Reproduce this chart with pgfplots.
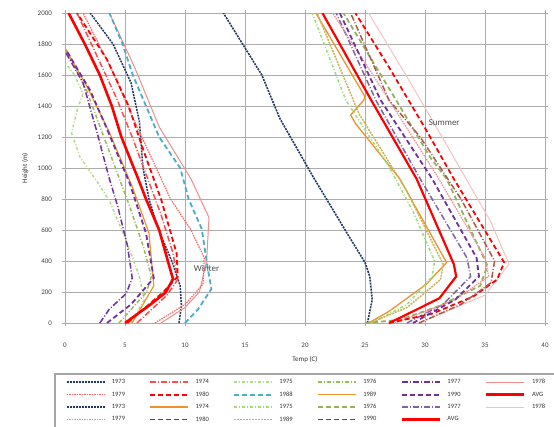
\documentclass[border=0pt]{standalone}
\usepackage{fontspec}
\setmainfont{Carlito}
\usepackage{pgfplots}
\pgfplotsset{compat=1.18}
\definecolor{navy}{HTML}{1F3864}
\definecolor{xred}{HTML}{FF0000}
\definecolor{lred}{HTML}{FF6666}
\definecolor{pinkl}{HTML}{F08C8C}
\definecolor{pinkp}{HTML}{F5C2C2}
\definecolor{lgreen}{HTML}{B5D98B}
\definecolor{ogreen}{HTML}{9BBB59}
\definecolor{dgreen}{HTML}{77A033}
\definecolor{purp}{HTML}{7030A0}
\definecolor{lpurp}{HTML}{8064A2}
\definecolor{sky}{HTML}{4BACC6}
\definecolor{orng}{HTML}{F0922E}
\definecolor{olv}{HTML}{C9B458}
\definecolor{ygreen}{HTML}{C3D69B}
\definecolor{brn}{HTML}{B2564A}

\begin{document}
\begin{tikzpicture}[x=1pt,y=1pt]
\path[use as bounding box] (-65,-103) rectangle (489,323);
\begin{axis}[
  at={(0,0)}, anchor=south west, scale only axis,
  width=480pt, height=310pt,
  xmin=0, xmax=40, ymin=0, ymax=2000,
  xtick={0,5,...,40}, ytick={0,200,...,2000},
  grid=major, major grid style={gray!65, line width=0.8pt},
  axis line style={gray!65, line width=0.8pt},
  tick style={gray!65}, tick align=outside, major tick length=3pt,
  ticklabel style={font=\fontsize{7}{8}\selectfont, text=black!75},
  xticklabel style={yshift=-13pt},
  yticklabel style={xshift=-6pt},
  /pgf/number format/assume math mode=true,
  /pgf/number format/1000 sep={},
  xlabel={Temp (C)}, ylabel={Height (m)},
  label style={font=\fontsize{7}{8}\selectfont, text=black!80},
  xlabel style={at={(axis description cs:0.5,-0.119)}, anchor=center},
  ylabel style={at={(axis description cs:-0.083,0.5)}, anchor=center},
  legend columns=6,
  legend cell align=left,
  legend image code/.code={\draw[#1] (0pt,0pt) -- (38pt,0pt);},
  legend style={name=leg, at={(axis description cs:-0.0208,-0.1645)}, anchor=north west,
    font=\fontsize{6.5}{7}\selectfont, draw=none,
    inner xsep=10pt, inner ysep=3pt, row sep=3.5pt, column sep=0pt,
    nodes={text width=34pt, inner sep=1.5pt, text=black!80},
    /tikz/every odd column/.append style={column sep=5pt},
    /tikz/every even column/.append style={column sep=2pt}},
  line width=1.5pt,
]
% ---- winter (rows 1-2)
\addplot[navy, dash pattern=on 2pt off 1pt] coordinates {(9.5,0)(9.7,110)(9.6,240)(8.9,400)(7.8,600)(7.0,800)(6.5,1000)(6.2,1300)(5.5,1550)(4.0,1800)(2.1,2000)};
\addlegendentry{1973}
\addplot[xred!70, dash pattern=on 6pt off 2pt on 1pt off 2pt] coordinates {(6.0,0)(8.5,180)(9.4,280)(9.0,450)(8.0,700)(6.8,950)(5.6,1200)(4.3,1450)(2.8,1700)(1.0,2000)};
\addlegendentry{1974}
\addplot[lgreen, dash pattern=on 3pt off 2pt on 1pt off 2pt] coordinates {(5.5,0)(6.6,150)(6.2,300)(5.0,550)(3.7,790)(2.6,920)(1.25,1070)(0.55,1225)(1.0,1370)(1.5,1480)(0.8,1600)(0,1680)};
\addlegendentry{1975}
\addplot[ogreen, dash pattern=on 4pt off 2pt on 1pt off 2pt] coordinates {(4.5,0)(6.8,200)(7.2,300)(6.5,500)(5.4,750)(4.2,1000)(3.0,1250)(1.8,1500)(0.5,1700)(0,1780)};
\addlegendentry{1976}
\addplot[purp, dash pattern=on 6pt off 2pt on 1pt off 2pt] coordinates {(2.9,0)(3.7,90)(5.1,190)(5.6,290)(5.2,500)(4.4,750)(3.7,930)(2.6,1250)(1.5,1550)(0.1,1740)};
\addlegendentry{1977}
\addplot[pinkl, line width=1pt] coordinates {(8.0,0)(10.0,100)(11.2,200)(11.8,400)(12.0,680)(10.5,930)(7.85,1265)(5.8,1650)(3.7,2000)};
\addlegendentry{1978}
\addplot[lred, line width=1.2pt, dash pattern=on 1.5pt off 1pt] coordinates {(7.5,0)(10.0,120)(11.5,250)(11.6,420)(10.5,600)(8.8,800)(7.6,1000)(5.8,1300)(3.8,1650)(1.5,2000)};
\addlegendentry{1979}
\addplot[xred, line width=1.8pt, dash pattern=on 5pt off 3pt] coordinates {(5.2,0)(8.2,200)(9.4,300)(9.3,450)(8.0,800)(6.6,1100)(5.3,1400)(3.5,1700)(1.0,2000)};
\addlegendentry{1980}
\addplot[sky, line width=1.8pt, dash pattern=on 5pt off 3pt] coordinates {(10.0,0)(11.1,90)(12.2,220)(11.9,350)(11.4,606)(10.3,800)(9.6,1000)(7.85,1200)(6.75,1400)(5.65,1600)(4.8,1800)(3.7,2000)};
\addlegendentry{1988}
\addplot[orng, line width=1.2pt] coordinates {(5.6,0)(7.4,240)(7.0,580)(5.6,880)(3.7,1230)(1.8,1530)(0.1,1760)};
\addlegendentry{1989}
\addplot[purp, line width=1.8pt, dash pattern=on 5pt off 3pt] coordinates {(3.5,0)(5.5,120)(7.4,290)(6.75,580)(5.4,900)(3.4,1270)(2.1,1500)(0.1,1760)};
\addlegendentry{1990}
\addplot[xred, line width=2.6pt] coordinates {(5.0,0)(7.0,112)(8.4,198)(9.0,284)(8.6,392)(7.85,600)(6.75,800)(6.1,930)(4.7,1200)(3.9,1400)(2.9,1600)(1.65,1800)(0.3,2000)};
\addlegendentry{AVG}
% ---- summer (rows 3-4)
\addplot[navy, dash pattern=on 2pt off 1pt, line width=1.6pt] coordinates {(25.2,0)(25.6,150)(25.4,300)(25.0,390)(23.5,580)(20.7,940)(17.9,1320)(16.4,1600)(13.2,2000)};
\addlegendentry{1973}
\addplot[orng, line width=1.3pt] coordinates {(25.3,0)(27.0,75)(30.1,250)(31.8,390)(27.9,930)(24.2,1288)(23.8,1342)(24.9,1438)(25.0,1460)(20.9,2000)};
\addlegendentry{1974}
\addplot[ygreen!80!green, dash pattern=on 3pt off 2pt on 1pt off 2pt] coordinates {(25.6,0)(28.5,120)(30.6,300)(30.8,400)(29.0,720)(27.0,1008)(23.4,1438)(20.6,2000)};
\addlegendentry{1975}
\addplot[dgreen!80, line width=1.8pt, dash pattern=on 5pt off 3pt] coordinates {(25.0,0)(27.9,20)(31.2,110)(34.6,240)(35.2,370)(31.8,930)(30.4,1073)(27.5,1450)(23.2,2000)};
\addlegendentry{1976}
\addplot[lpurp, dash pattern=on 6pt off 2pt on 1pt off 2pt] coordinates {(28.5,0)(31.5,120)(33.8,300)(33.5,420)(29.6,930)(25.9,1438)(22.6,2000)};
\addlegendentry{1977}
\addplot[pinkp, line width=1pt] coordinates {(29.5,0)(35.0,180)(37.0,380)(35.5,650)(31.8,1150)(28.4,1600)(25.3,2000)};
\addlegendentry{1978}
\addplot[pinkl, line width=1.2pt, dash pattern=on 1.5pt off 1pt] coordinates {(27.5,0)(32.5,150)(35.3,300)(35.0,420)(31.0,950)(26.5,1500)(22.3,2000)};
\addlegendentry{1979}
\addplot[xred, line width=1.8pt, dash pattern=on 5pt off 3pt] coordinates {(27.0,0)(30.6,60)(34.0,170)(36.0,280)(36.6,390)(32.4,930)(30.1,1245)(27.0,1650)(24.2,2000)};
\addlegendentry{1980}
\addplot[olv, dash pattern=on 2pt off 1pt] coordinates {(25.4,0)(28.5,100)(31.3,280)(31.5,380)(28.5,850)(24.5,1350)(21.0,2000)};
\addlegendentry{1989}
\addplot[purp, line width=1.8pt, dash pattern=on 5pt off 3pt] coordinates {(29.0,0)(32.5,150)(34.5,300)(34.3,420)(30.6,930)(26.3,1438)(22.9,2000)};
\addlegendentry{1990}
\addplot[xred, line width=2.2pt] coordinates {(27.0,0)(28.4,52)(31.2,160)(32.6,300)(32.4,380)(29.3,930)(25.5,1440)(21.45,2000)};
\addlegendentry{AVG}
\addplot[brn, forget plot, line width=1.5pt, dash pattern=on 6pt off 2pt on 1pt off 2pt] coordinates {(29.5,0)(33.0,120)(35.5,260)(35.8,400)(33.0,800)(29.6,1200)(27.0,1438)(23.8,2000)};
\node[font=\fontsize{9}{10}\selectfont, text=black!70] at (axis cs:11.8,355) {Winter};
\node[font=\fontsize{9}{10}\selectfont, text=black!70] at (axis cs:31.6,1290) {Summer};
\end{axis}
\draw[gray!70, line width=1.2pt] (leg.south west) rectangle (leg.north east);
\end{tikzpicture}
\end{document}
